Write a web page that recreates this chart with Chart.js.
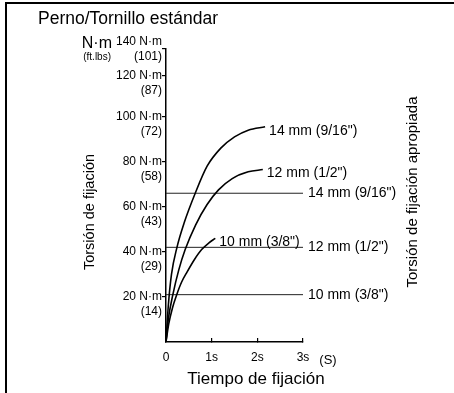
<!DOCTYPE html>
<html lang="es">
<head>
<meta charset="UTF-8">
<title>Perno/Tornillo estándar</title>
<script src="https://cdn.jsdelivr.net/npm/chart.js"></script>
<style>
    body {
        margin: 0;
        background: #fff;
    }

    #wrap {
        position: relative;
        width: 454px;
        height: 393px;
        overflow: hidden;
    }

    /* frame: only the top and left edges are visible in the picture */
    #frame {
        position: absolute;
        left: 5px;
        top: 2px;
        width: 480px;
        height: 420px;
        border: 2px solid #000;
        box-sizing: border-box;
    }

    canvas {
        position: absolute;
        left: 0;
        top: 0;
    }
</style>
</head>
<body>
<div id="wrap">
    <div id="frame"></div>
    <canvas id="torqueChart" width="454" height="393"></canvas>
</div>

<script>
    // axis ticks
    const xTicks = [0, 1, 2, 3];
    const xTickLabels = ['0', '1s', '2s', '3s'];
    // the top of the original axis is squeezed: 120 and 140 sit closer together
    const yTickAt = [0, 20, 40, 60, 80, 100, 118, 130];
    const yTickNm = ['', '20 N·m', '40 N·m', '60 N·m', '80 N·m', '100 N·m', '120 N·m', '140 N·m'];
    const yTickFt = ['', '(14)', '(29)', '(43)', '(58)', '(72)', '(87)', '(101)'];

    // tightening curves (time in s, torque in N·m)
    const curveNames = ['14 mm (9/16")', '12 mm (1/2")', '10 mm (3/8")'];
    const t14 = [0, 0.05, 0.12, 0.24, 0.4, 0.64, 0.9, 1.2, 1.5, 1.8, 2.17];
    const v14 = [0, 16, 30, 42, 53, 66, 78, 86, 91, 94, 95.5];
    const t12 = [0, 0.05, 0.15, 0.28, 0.42, 0.65, 0.9, 1.15, 1.45, 1.8, 2.12];
    const v12 = [0, 10, 21, 32, 41, 52, 61, 67.5, 72.5, 75.5, 76.5];
    const t10 = [0, 0.06, 0.14, 0.235, 0.34, 0.46, 0.62, 0.78, 0.94, 1.08];
    const v10 = [0, 8, 15, 21, 26.5, 31, 36.5, 41, 44, 46];

    // proper tightening torque
    const limitNames = ['14 mm (9/16")', '12 mm (1/2")', '10 mm (3/8")'];
    const limitValues = [66, 42, 21];

    const FONT = '"Liberation Sans", Arial, sans-serif';

    function toPoints(ts, vs) {
        return ts.map((t, i) => ({ x: t, y: vs[i] }));
    }

    var curveSets = [[t14, v14], [t12, v12], [t10, v10]].map((c, i) => ({
        label: curveNames[i],
        data: toPoints(c[0], c[1]),
        borderColor: '#000',
        borderWidth: 1.6,
        pointRadius: 0,
        fill: false,
        cubicInterpolationMode: 'monotone'
    }));

    var limitSets = limitValues.map((v, i) => ({
        label: 'lim ' + limitNames[i],
        data: [{ x: 0, y: v }, { x: xTicks[xTicks.length - 1], y: v }],
        borderColor: '#222',
        borderWidth: 1,
        pointRadius: 0,
        fill: false
    }));

    // free text around the plot, placed from the chart area
    const textPlugin = {
        id: 'texts',
        afterDatasetsDraw(chart) {
            const ctx = chart.ctx;
            const a = chart.chartArea;
            ctx.save();
            ctx.fillStyle = '#000';

            // labels at the end of each curve
            ctx.font = '14px ' + FONT;
            ctx.textAlign = 'left';
            ctx.textBaseline = 'middle';
            curveSets.forEach((d, i) => {
                const pts = chart.getDatasetMeta(i).data;
                const p = pts[pts.length - 1];
                ctx.fillText(curveNames[i], p.x + 4, p.y + 4);
            });
            limitSets.forEach((d, i) => {
                const pts = chart.getDatasetMeta(curveSets.length + i).data;
                const p = pts[pts.length - 1];
                ctx.fillText(limitNames[i], p.x + 5, p.y);
            });

            // title
            ctx.font = '17.5px ' + FONT;
            ctx.textBaseline = 'alphabetic';
            ctx.fillText('Perno/Tornillo estándar', 38, 24);

            // unit above y axis
            ctx.textAlign = 'right';
            ctx.textBaseline = 'middle';
            ctx.font = '16px ' + FONT;
            ctx.fillText('N·m', a.left - 54, a.top - 5);
            ctx.font = '10px ' + FONT;
            ctx.fillText('(ft.lbs)', a.left - 55, a.top + 8);

            // x axis title and unit
            ctx.textAlign = 'center';
            ctx.font = '13px ' + FONT;
            ctx.fillText('(S)', a.right + 25, a.bottom + 18);
            ctx.font = '17px ' + FONT;
            ctx.fillText('Tiempo de fijación', 256, a.bottom + 37);

            // rotated titles
            ctx.save();
            ctx.translate(90, 212);
            ctx.rotate(-Math.PI / 2);
            ctx.font = '14.5px ' + FONT;
            ctx.fillText('Torsión de fijación', 0, 0);
            ctx.restore();

            ctx.save();
            ctx.translate(413, 192);
            ctx.rotate(-Math.PI / 2);
            ctx.font = '15px ' + FONT;
            ctx.fillText('Torsión de fijación apropiada', 0, 0);
            ctx.restore();

            ctx.restore();
        }
    };

    var ctx = document.getElementById('torqueChart').getContext('2d');
    var torqueChart = new Chart(ctx, {
        type: 'line',
        data: {
            datasets: curveSets.concat(limitSets)
        },
        options: {
            responsive: false,
            animation: false,
            layout: {
                padding: { left: 0, top: 49, right: 151, bottom: 0 }
            },
            plugins: {
                legend: { display: false },
                tooltip: { enabled: false }
            },
            scales: {
                x: {
                    type: 'linear',
                    min: 0,
                    max: 3,
                    afterBuildTicks: s => { s.ticks = xTicks.map(v => ({ value: v })); },
                    afterFit: s => { s.height = 51; },
                    grid: {
                        drawOnChartArea: false,
                        tickLength: -4,
                        color: '#000',
                        lineWidth: 1.2
                    },
                    border: { display: true, color: '#000', width: 1.5 },
                    ticks: {
                        padding: 12,
                        autoSkip: false,
                        maxRotation: 0,
                        color: '#000',
                        font: { family: FONT, size: 12 },
                        callback: (v, i) => xTickLabels[i]
                    }
                },
                y: {
                    type: 'linear',
                    min: 0,
                    max: 130,
                    afterBuildTicks: s => { s.ticks = yTickAt.map(v => ({ value: v })); },
                    afterFit: s => { s.width = 166; },
                    grid: {
                        drawOnChartArea: false,
                        tickLength: 4,
                        color: c => c.index === 0 ? 'rgba(0,0,0,0)' : '#000',
                        lineWidth: 1.2
                    },
                    border: { display: true, color: '#000', width: 1.5 },
                    ticks: {
                        padding: 0,
                        autoSkip: false,
                        color: '#000',
                        font: { family: FONT, size: 12, lineHeight: 1.25 },
                        // the top label sits a little higher than its tick in the original
                        callback: (v, i) => i === yTickAt.length - 1
                            ? [yTickNm[i], yTickFt[i]]
                            : ['', yTickNm[i], yTickFt[i]]
                    }
                }
            }
        },
        plugins: [textPlugin]
    });
</script>
</body>
</html>
